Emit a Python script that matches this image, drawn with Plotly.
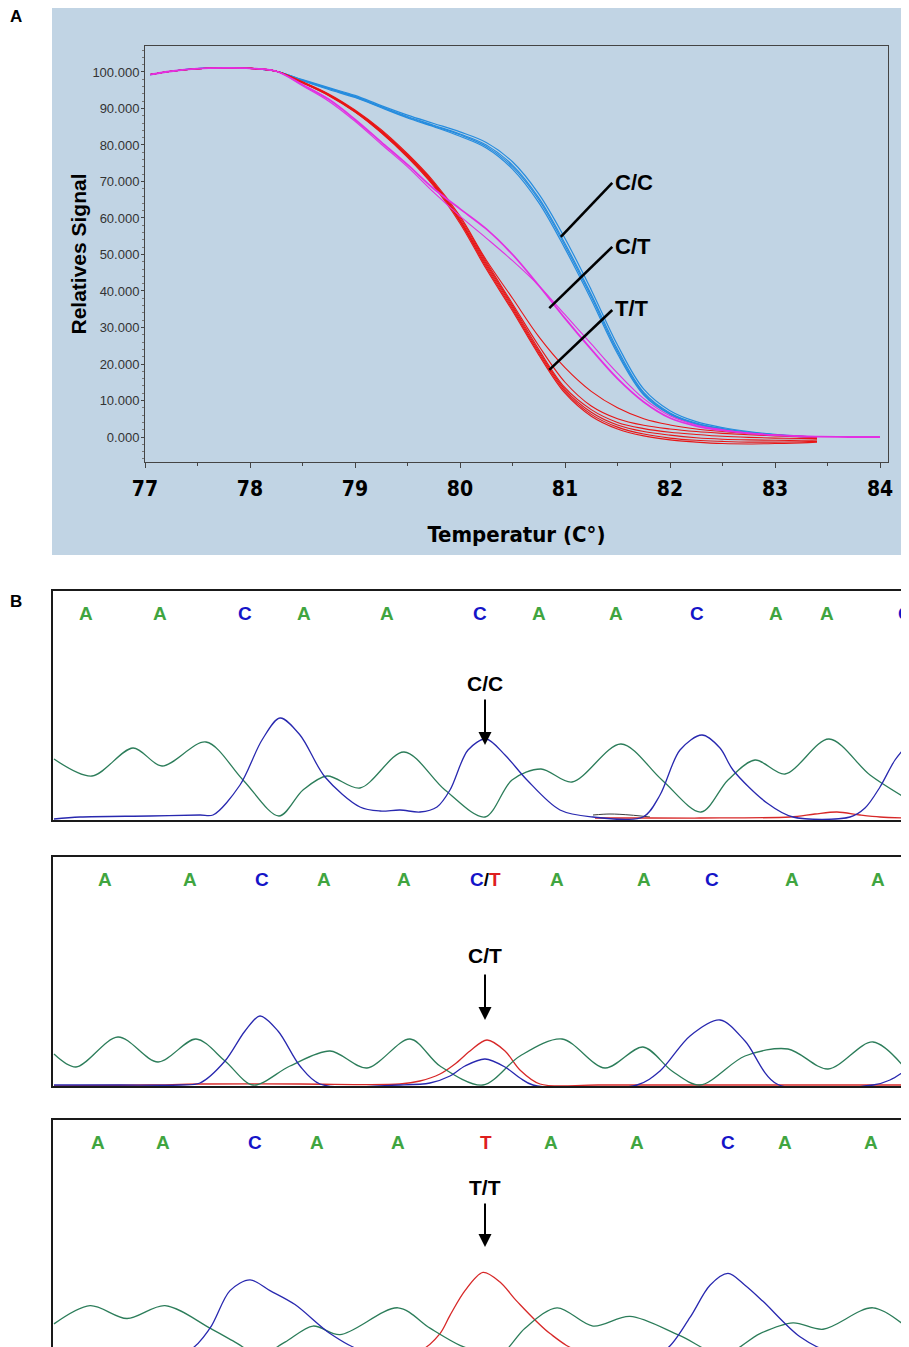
import plotly.graph_objects as go

W, H = 909, 1347
OFF = 8  # page body margin compensation

# ---------------- Panel A : melting curves ----------------
temps_start = [77.05, 77.25, 77.5, 77.75, 78.0, 78.25]
start_vals = [99.3, 100.2, 100.9, 101.1, 101.0, 100.2]
temps_tail = [78.5, 78.75, 79.0, 79.25, 79.5, 79.75, 80.0, 80.25, 80.5, 80.75, 81.0,
              81.25, 81.5, 81.75, 82.0, 82.25, 82.5, 82.75, 83.0, 83.25, 83.4]
temps_ext = [83.7, 84.0]

cc_curves = [
    [97.8, 95.5, 93.3, 90.5, 87.8, 85.4, 83.0, 80.0, 74.5, 65.5, 53.0, 39.0, 24.0, 12.2, 6.6, 3.8, 2.3, 1.3, 0.6, 0.2, 0.0],
    [97.6, 95.2, 93.0, 90.2, 87.4, 85.0, 82.4, 79.2, 73.4, 64.2, 51.6, 37.6, 22.8, 11.5, 6.2, 3.5, 2.1, 1.2, 0.5, 0.1, 0.0],
    [97.9, 95.7, 93.6, 90.8, 88.2, 85.9, 83.6, 80.7, 75.4, 66.6, 54.4, 40.3, 25.2, 13.1, 7.2, 4.2, 2.6, 1.5, 0.7, 0.2, 0.0],
    [97.7, 95.4, 93.2, 90.4, 87.6, 85.2, 82.8, 79.6, 74.0, 65.0, 52.4, 38.4, 23.4, 11.9, 6.4, 3.6, 2.2, 1.2, 0.6, 0.1, 0.0],
]
tt_curves = [
    [97.3, 94.0, 89.6, 84.2, 77.6, 70.0, 60.5, 48.5, 38.0, 27.5, 19.0, 12.5, 8.0, 5.0, 3.3, 2.2, 1.5, 0.9, 0.5, 0.2, 0.0],
    [97.2, 93.8, 89.4, 83.9, 77.3, 69.6, 60.0, 48.0, 36.5, 25.0, 15.0, 8.5, 5.0, 3.2, 2.2, 1.5, 1.0, 0.6, 0.3, 0.0, -0.2],
    [97.2, 93.8, 89.3, 83.8, 77.2, 69.5, 59.5, 47.5, 36.0, 24.0, 13.5, 7.5, 4.0, 2.3, 1.3, 0.7, 0.2, -0.1, -0.3, -0.4, -0.4],
    [97.1, 93.7, 89.2, 83.6, 77.0, 69.2, 59.2, 47.0, 35.5, 23.5, 13.0, 6.8, 3.3, 1.5, 0.5, -0.2, -0.6, -0.8, -0.9, -0.9, -0.8],
    [97.1, 93.6, 89.1, 83.5, 76.8, 69.0, 59.0, 46.5, 35.0, 23.0, 12.5, 6.2, 2.7, 0.8, -0.3, -0.9, -1.2, -1.4, -1.4, -1.3, -1.2],
    [97.0, 93.5, 89.0, 83.3, 76.6, 68.7, 58.5, 46.0, 34.5, 22.5, 12.0, 5.7, 2.2, 0.3, -0.8, -1.4, -1.8, -1.9, -1.8, -1.6, -1.4],
]
ct_curves = [
    [96.5, 92.5, 87.0, 80.8, 74.6, 68.0, 62.5, 57.0, 50.0, 41.5, 32.5, 24.0, 16.0, 9.6, 5.2, 3.0, 1.8, 1.0, 0.5, 0.2, 0.1],
    [96.2, 92.0, 86.5, 80.2, 74.0, 67.0, 60.5, 54.5, 48.3, 41.5, 33.5, 25.5, 17.5, 10.5, 5.8, 3.3, 2.0, 1.1, 0.5, 0.2, 0.1],
]
ct_ext_vals = [0.0, 0.0]

x_ticks = [77, 78, 79, 80, 81, 82, 83, 84]
y_ticks = [0, 10, 20, 30, 40, 50, 60, 70, 80, 90, 100]

# genotype pointer lines (temperature, signal) : tip -> label end
pointers = {
    "C/C": [(80.96, 54.8), (81.45, 69.6)],
    "C/T": [(80.85, 35.3), (81.45, 52.1)],
    "T/T": [(80.85, 18.4), (81.45, 34.8)],
}
pointer_label_y = {"C/C": 69.6, "C/T": 52.1, "T/T": 35.3}

# ---------------- Panel B : chromatograms ----------------
# positions along the read (scan), signal heights
g1 = [(54, 61), (92, 44), (133, 72), (162, 54), (206, 78), (243, 40), (279, 4), (303, 30), (327, 44), (360, 32),
      (404, 68), (445, 30), (485, 3), (512, 40), (541, 51), (572, 38), (621, 76), (662, 40), (701, 8), (728, 40),
      (755, 60), (785, 46), (829, 81), (870, 45), (909, 20)]
b1 = [(54, 1), (80, 3), (150, 4), (200, 5), (213, 5), (240, 35), (262, 80), (280, 102), (300, 85), (325, 43),
      (360, 13), (380, 9), (400, 10), (420, 8), (437, 13), (450, 30), (468, 70), (486, 81), (505, 65), (527, 40),
      (560, 10), (593, 3), (643, 3), (660, 25), (680, 70), (702, 85), (720, 72), (733, 50), (767, 17), (793, 3),
      (850, 3), (865, 12), (880, 33), (895, 60), (909, 77)]
r1 = [(595, 2), (650, 2), (700, 2), (790, 3), (815, 6), (837, 8), (860, 5), (880, 3), (909, 2)]
k1 = [(593, 5), (610, 6), (630, 5), (650, 3)]

g2 = [(54, 32), (76, 19), (118, 49), (158, 24), (196, 47), (225, 25), (253, 1), (290, 20), (330, 35), (367, 18),
      (410, 47), (440, 20), (483, 1), (520, 30), (562, 47), (605, 18), (643, 39), (672, 15), (700, 1), (745, 30),
      (788, 37), (828, 17), (873, 44), (909, 13)]
b2 = [(54, 1), (120, 1), (180, 1), (200, 3), (225, 25), (245, 55), (260, 70), (278, 55), (300, 20), (320, 2),
      (400, 1), (430, 3), (450, 10), (465, 20), (485, 27), (505, 19), (520, 8), (533, 1), (637, 1), (660, 15),
      (690, 50), (720, 66), (745, 45), (777, 2), (873, 1), (890, 6), (909, 18)]
r2 = [(54, 0), (150, 1), (200, 2), (300, 2), (400, 2), (420, 5), (440, 12), (455, 22), (470, 35), (487, 46),
      (505, 35), (520, 16), (540, 2), (600, 1), (909, 1)]

g3 = [(54, 29), (90, 46), (127, 34), (165, 46), (210, 25), (235, 12), (260, 0), (285, 12), (313, 27), (340, 19),
      (398, 44), (430, 25), (460, 9), (480, 3), (500, 0), (525, 25), (557, 44), (593, 27), (630, 36), (680, 18),
      (723, 0), (760, 20), (793, 30), (823, 24), (873, 44), (909, 24)]
b3 = [(54, 3), (120, 4), (150, 5), (190, 5), (210, 25), (230, 60), (250, 70), (270, 60), (295, 47), (330, 20),
      (360, 5), (390, 6), (420, 3), (460, 2), (560, 2), (650, 2), (667, 6), (690, 35), (710, 65), (728, 76),
      (745, 65), (763, 50), (800, 17), (833, 2), (880, 1), (909, 3)]
r3 = [(54, 1), (150, 2), (200, 4), (300, 4), (400, 3), (420, 4), (440, 20), (450, 37), (465, 60), (483, 77),
      (500, 68), (517, 50), (550, 20), (583, 2), (700, 1), (800, 1), (830, 4), (850, 6), (880, 5), (909, 5)]

bases1 = ["A", "A", "C", "A", "A", "C", "A", "A", "C", "A", "A", "C"]
bpos1 = [86, 160, 245, 304, 387, 480, 539, 616, 697, 776, 827, 905]
bases2 = ["A", "A", "C", "A", "A", "C/T", "A", "A", "C", "A", "A"]
bpos2 = [105, 190, 262, 324, 404, 485, 557, 644, 712, 792, 878]
bases3 = ["A", "A", "C", "A", "A", "T", "A", "A", "C", "A", "A"]
bpos3 = [98, 163, 255, 317, 398, 486, 551, 637, 728, 785, 871]

# ---------------- styling ----------------
BG_A = "rgb(193,212,228)"
C_CC = "rgb(38,140,222)"
C_TT = "rgb(232,22,22)"
C_CT = "rgb(226,48,226)"
TR_G = "rgb(44,125,90)"
TR_B = "rgb(40,40,175)"
TR_R = "rgb(215,40,40)"
TR_K = "rgb(60,60,60)"
L_G = "rgb(64,165,64)"
L_B = "rgb(20,20,200)"
L_R = "rgb(222,30,30)"
BOLD = "Liberation Sans"
NARROW = "Liberation Sans Narrow, DejaVu Sans Condensed, Arial Narrow, sans-serif"


def px(x):
    return (x - OFF) / W


def py(y):
    return 1 - (y - OFF) / H


fig = go.Figure()

# melting curves
for vals in cc_curves:
    fig.add_trace(go.Scatter(x=temps_start + temps_tail, y=start_vals + vals, mode="lines",
                             line=dict(color=C_CC, width=1.2, shape="spline"), xaxis="x", yaxis="y",
                             showlegend=False, hoverinfo="skip"))
for vals in tt_curves:
    fig.add_trace(go.Scatter(x=temps_start + temps_tail, y=start_vals + vals, mode="lines",
                             line=dict(color=C_TT, width=1.1, shape="spline"), xaxis="x", yaxis="y",
                             showlegend=False, hoverinfo="skip"))
for i, vals in enumerate(ct_curves):
    xs = temps_start + temps_tail + (temps_ext if i == 0 else [])
    ys = start_vals + vals + (ct_ext_vals if i == 0 else [])
    fig.add_trace(go.Scatter(x=xs, y=ys, mode="lines",
                             line=dict(color=C_CT, width=1.8 if i == 0 else 1.1, shape="spline"),
                             xaxis="x", yaxis="y", showlegend=False, hoverinfo="skip"))


def add_trace(pts, color, ax, width=1.3):
    fig.add_trace(go.Scatter(x=[p[0] for p in pts], y=[p[1] for p in pts], mode="lines",
                             line=dict(color=color, width=width, shape="spline", smoothing=0.9),
                             xaxis="x" + ax, yaxis="y" + ax, showlegend=False, hoverinfo="skip",
                             cliponaxis=True))


add_trace(k1, TR_K, "2", 1.0)
add_trace(r1, TR_R, "2")
add_trace(g1, TR_G, "2")
add_trace(b1, TR_B, "2")
add_trace(r2, TR_R, "3")
add_trace(g2, TR_G, "3")
add_trace(b2, TR_B, "3")
add_trace(r3, TR_R, "4")
add_trace(g3, TR_G, "4")
add_trace(b3, TR_B, "4")

shapes = []
# panel A background
shapes.append(dict(type="rect", xref="paper", yref="paper", x0=px(52), x1=1.0, y0=py(555), y1=py(7),
                   fillcolor=BG_A, line=dict(width=0), layer="below"))
for name, ((x0, y0), (x1, y1)) in pointers.items():
    shapes.append(dict(type="line", xref="x", yref="y", x0=x0, y0=y0, x1=x1, y1=y1,
                       line=dict(color="black", width=2.6)))

annotations = []
annotations.append(dict(text="<b>A</b>", xref="paper", yref="paper", x=px(16), y=py(17), showarrow=False,
                        xanchor="center", yanchor="middle", font=dict(family=BOLD, size=17, color="black")))
annotations.append(dict(text="<b>B</b>", xref="paper", yref="paper", x=px(16), y=py(601), showarrow=False,
                        xanchor="center", yanchor="middle", font=dict(family=BOLD, size=17, color="black")))
for name, yv in pointer_label_y.items():
    annotations.append(dict(text="<b>%s</b>" % name, xref="x", yref="y", x=81.46, y=yv, xanchor="left",
                            yanchor="middle", showarrow=False, font=dict(family=BOLD, size=22, color="black")))


def base_color(b):
    return {"A": L_G, "C": L_B, "T": L_R}[b]


def add_bases(bases, pos, ypix):
    for b, p in zip(bases, pos):
        if "/" in b:
            a, c = b.split("/")
            txt = ("<span style='color:%s'>%s</span><span style='color:black'>/</span>"
                   "<span style='color:%s'>%s</span>" % (base_color(a), a, base_color(c), c))
        else:
            txt = "<span style='color:%s'>%s</span>" % (base_color(b), b)
        annotations.append(dict(text="<b>%s</b>" % txt, xref="paper", yref="paper", x=px(p), y=py(ypix),
                                xanchor="center", yanchor="middle",
                                showarrow=False, font=dict(family=BOLD, size=19)))


add_bases(bases1, bpos1, 613)
add_bases(bases2, bpos2, 879)
add_bases(bases3, bpos3, 1142)

for label, lab_y, tail_y, tip_y in [("C/C", 683, 698, 745), ("C/T", 955, 973, 1020), ("T/T", 1187, 1202, 1247)]:
    annotations.append(dict(text="<b>%s</b>" % label, xref="paper", yref="paper", x=px(485), y=py(lab_y),
                            xanchor="center", yanchor="middle",
                            showarrow=False, font=dict(family=BOLD, size=21, color="black")))
    annotations.append(dict(text="", xref="paper", yref="paper", x=px(485), y=py(tip_y),
                            ax=0, ay=-(tip_y - tail_y), showarrow=True, arrowhead=2, arrowsize=1.3,
                            arrowwidth=2, arrowcolor="black"))

box_line = dict(showline=True, linecolor="#1a1a1a", linewidth=2, automargin=False)
chrom_x = dict(range=[53, 917], domain=[px(53), 1.0], showgrid=False, zeroline=False,
               showticklabels=False, ticks="", **box_line)
chrom_y = dict(showgrid=False, zeroline=False, showticklabels=False, ticks="", **box_line)

fig.update_layout(
    width=W, height=H, margin=dict(l=0, r=0, t=0, b=0, autoexpand=False),
    paper_bgcolor="white", plot_bgcolor="white",
    shapes=shapes, annotations=annotations,
    xaxis=dict(domain=[px(145), px(888)], range=[77, 84.076], anchor="y", automargin=False,
               tickvals=x_ticks, ticktext=[str(v) for v in x_ticks],
               ticks="outside", ticklen=5, tickcolor="#444", ticklabelstandoff=3,
               minor=dict(dtick=0.5, tick0=77, ticks="outside", ticklen=3, tickcolor="#444"),
               tickfont=dict(family=NARROW, size=21, color="black", weight="bold"),
               showline=True, linecolor="#444", linewidth=1, mirror=True,
               showgrid=False, zeroline=False,
               title=dict(text="Temperatur (C°)", standoff=26,
                          font=dict(family=NARROW, size=22, color="black", weight="bold"))),
    yaxis=dict(domain=[py(462), py(46)], range=[-6.85, 107.12], anchor="x", automargin=False,
               tickvals=y_ticks, tickformat=".3f",
               ticks="outside", ticklen=3, tickcolor="#444", ticklabelstandoff=-1,
               minor=dict(dtick=2, ticks="outside", ticklen=2, tickcolor="#777"),
               tickfont=dict(family=BOLD, size=13, color="#333"),
               showline=True, linecolor="#444", linewidth=1, mirror=True,
               showgrid=False, zeroline=False,
               title=dict(text="Relatives Signal", standoff=0,
                          font=dict(family=BOLD, size=21, color="black", weight="bold"))),
    xaxis2=dict(anchor="y2", mirror=True, **chrom_x),
    yaxis2=dict(anchor="x2", domain=[py(820), py(591)], range=[0, 229], **chrom_y),
    xaxis3=dict(anchor="y3", mirror=True, **chrom_x),
    yaxis3=dict(anchor="x3", domain=[py(1086), py(857)], range=[0, 229], **chrom_y),
    xaxis4=dict(anchor="y4", side="top", **chrom_x),
    yaxis4=dict(anchor="x4", domain=[0, py(1120)], range=[0, 227 - OFF], **chrom_y),
)

fig.write_html("out.html")
